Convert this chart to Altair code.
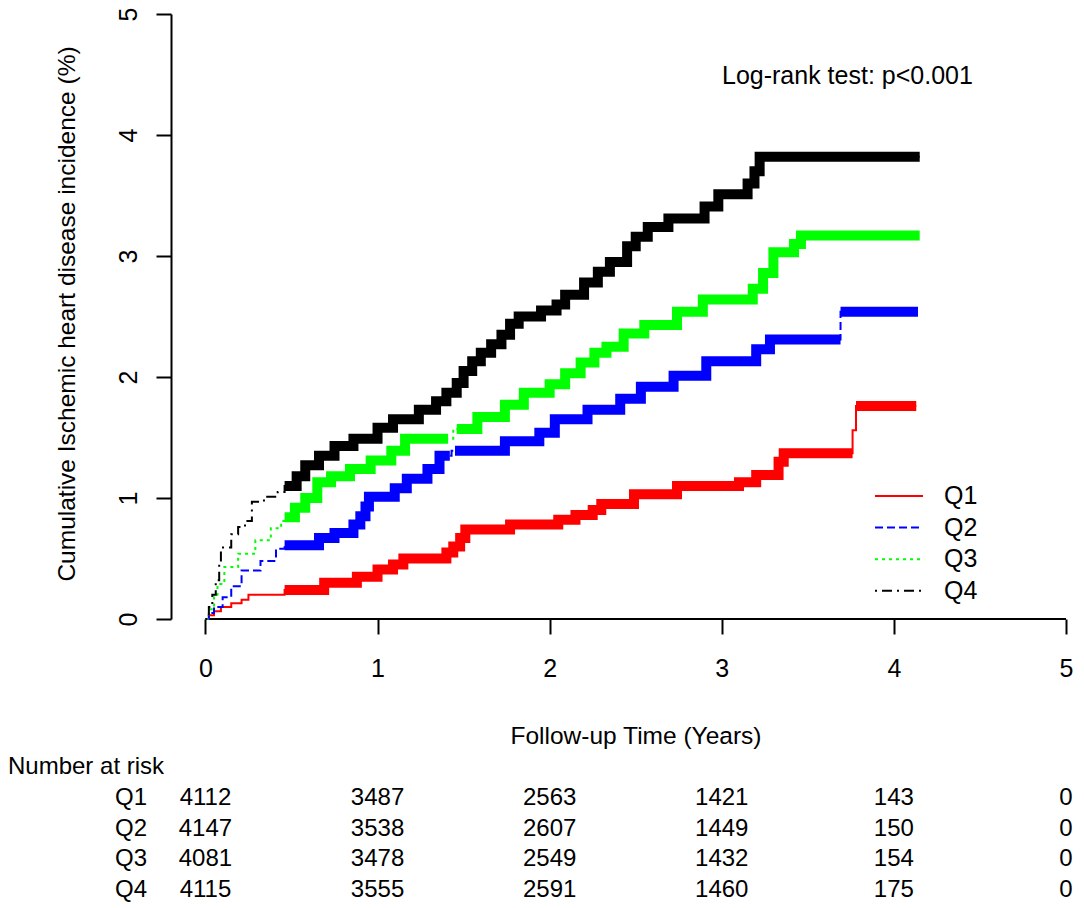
import altair as alt
import pandas as pd

FONT = "Liberation Sans"

# ---------------- data ----------------
groups = ["Q1", "Q2", "Q3", "Q4"]
group_colors = ["#FF0000", "#0000FF", "#00FF00", "#000000"]
group_dashes = [[1, 0], [8, 4], [3, 4], [2, 5, 10, 5]]

# step breakpoints (time in years, cumulative incidence %)
q1_t = [0, 0.02, 0.05, 0.09, 0.15, 0.21, 0.25, 0.46, 0.69, 0.88, 1.00, 1.09, 1.15, 1.40, 1.44,
        1.48, 1.51, 1.77, 2.05, 2.15, 2.25, 2.30, 2.49, 2.74, 3.10, 3.20, 3.33, 3.36, 3.76, 3.78, 4.13]
q1_v = [0, 0.03, 0.065, 0.10, 0.13, 0.16, 0.20, 0.24, 0.30, 0.35, 0.41, 0.45, 0.50, 0.55, 0.60,
        0.67, 0.74, 0.78, 0.82, 0.86, 0.90, 0.95, 1.03, 1.10, 1.13, 1.19, 1.30, 1.37, 1.56, 1.76, 1.76]

q2_t = [0, 0.02, 0.05, 0.10, 0.15, 0.21, 0.32, 0.41, 0.46, 0.66, 0.75, 0.86, 0.90, 0.93, 0.95,
        1.10, 1.17, 1.29, 1.36, 1.43, 1.74, 1.94, 2.03, 2.22, 2.41, 2.53, 2.72, 2.91, 3.20, 3.28, 3.69, 4.14]
q2_v = [0, 0.05, 0.10, 0.18, 0.27, 0.40, 0.48, 0.58, 0.61, 0.67, 0.71, 0.78, 0.85, 0.93, 1.01,
        1.08, 1.16, 1.24, 1.35, 1.39, 1.47, 1.54, 1.65, 1.73, 1.82, 1.92, 2.01, 2.13, 2.23, 2.31, 2.54, 2.54]

q3_t = [0, 0.02, 0.05, 0.07, 0.11, 0.19, 0.29, 0.38, 0.44, 0.46, 0.52, 0.58, 0.65, 0.73, 0.84,
        0.96, 1.08, 1.16, 1.44, 1.58, 1.74, 1.85, 2.00, 2.09, 2.18, 2.26, 2.33, 2.43, 2.55, 2.74,
        2.89, 3.18, 3.24, 3.30, 3.42, 3.46, 4.15]
q3_v = [0, 0.08, 0.20, 0.29, 0.43, 0.54, 0.65, 0.75, 0.81, 0.84, 0.92, 1.00, 1.13, 1.18, 1.24,
        1.31, 1.39, 1.49, 1.57, 1.67, 1.77, 1.87, 1.94, 2.03, 2.12, 2.20, 2.25, 2.36, 2.43, 2.54,
        2.64, 2.73, 2.86, 3.03, 3.10, 3.17, 3.17]

q4_t = [0, 0.02, 0.04, 0.06, 0.08, 0.09, 0.15, 0.19, 0.23, 0.27, 0.34, 0.42, 0.46, 0.53, 0.58,
        0.66, 0.75, 0.86, 1.00, 1.09, 1.24, 1.34, 1.40, 1.46, 1.50, 1.55, 1.60, 1.66, 1.72, 1.77,
        1.82, 1.95, 2.04, 2.09, 2.20, 2.28, 2.35, 2.45, 2.50, 2.57, 2.69, 2.90, 2.98, 3.15, 3.19, 3.22, 4.15]
q4_v = [0, 0.10, 0.20, 0.32, 0.45, 0.59, 0.70, 0.76, 0.81, 0.97, 1.01, 1.05, 1.10, 1.18, 1.27,
        1.35, 1.43, 1.49, 1.58, 1.65, 1.73, 1.80, 1.87, 1.95, 2.05, 2.13, 2.20, 2.27, 2.35, 2.44,
        2.50, 2.55, 2.60, 2.68, 2.78, 2.87, 2.95, 3.08, 3.16, 3.24, 3.31, 3.41, 3.51, 3.60, 3.70, 3.82, 3.82]

# time ranges densely covered by censoring marks (drawn as heavy band)
cens_q1 = [[0.46, 3.76], [3.78, 4.13]]
cens_q2 = [[0.46, 1.42], [1.45, 3.69], [3.69, 4.14]]
cens_q3 = [[0.46, 1.41], [1.46, 4.15]]
cens_q4 = [[0.46, 4.15]]

x_ticks = [0, 1, 2, 3, 4, 5]
y_ticks = [0, 1, 2, 3, 4, 5]
x_title = "Follow-up Time (Years)"
y_title = "Cumulative Ischemic heart disease incidence (%)"
test_label = ["Log-rank test: p<0.001"]
test_x = [3.73]
test_y = [4.42]

risk_header = "Number at risk"
risk_times = [0, 1, 2, 3, 4, 5]
risk_q1 = [4112, 3487, 2563, 1421, 143, 0]
risk_q2 = [4147, 3538, 2607, 1449, 150, 0]
risk_q3 = [4081, 3478, 2549, 1432, 154, 0]
risk_q4 = [4115, 3555, 2591, 1460, 175, 0]

# ---------------- tables ----------------
series_t = [q1_t, q2_t, q3_t, q4_t]
series_v = [q1_v, q2_v, q3_v, q4_v]
series_c = [cens_q1, cens_q2, cens_q3, cens_q4]
series_r = [risk_q1, risk_q2, risk_q3, risk_q4]

curve_rows = []
for g, ts, vs in zip(groups, series_t, series_v):
    assert len(ts) == len(vs)
    for t, v in zip(ts, vs):
        curve_rows.append({"group": g, "t": t, "v": v})
curves = pd.DataFrame(curve_rows)


def value_at(ts, vs, t, strict=False):
    val = vs[0]
    for ti, vi in zip(ts, vs):
        if ti < t or (ti == t and not strict):
            val = vi
    return val


band_rows = []
for g, ts, vs, cs in zip(groups, series_t, series_v, series_c):
    for k, (a, b) in enumerate(cs):
        seg = f"{g}-{k}"
        band_rows.append({"group": g, "seg": seg, "t": a, "v": value_at(ts, vs, a)})
        for ti, vi in zip(ts, vs):
            if a < ti < b:
                band_rows.append({"group": g, "seg": seg, "t": ti, "v": vi})
        band_rows.append({"group": g, "seg": seg, "t": b, "v": value_at(ts, vs, b, strict=True)})
bands = pd.DataFrame(band_rows)

risk_rows = []
for g, rs in zip(groups, series_r):
    for t, n in zip(risk_times, rs):
        risk_rows.append({"row": g, "t": t, "n": str(n)})
risk_df = pd.DataFrame(risk_rows)

rule_df = pd.DataFrame({"x0": [x_ticks[0]], "x1": [x_ticks[-1]], "y": [y_ticks[0]]})
test_df = pd.DataFrame({"x": test_x, "y": test_y, "label": test_label})

# ---------------- layout ----------------
W, H = 895, 605
PAD = {"left": 163, "top": 6, "right": 10, "bottom": 286}

xs = alt.Scale(domain=[-0.2, 5], nice=False, zero=False)
ys = alt.Scale(domain=[0, 5], nice=False, zero=False)
color_scale = alt.Scale(domain=groups, range=group_colors)
dash_scale = alt.Scale(domain=groups, range=group_dashes)

x_axis = alt.Axis(values=x_ticks, title=x_title, domain=False, grid=False,
                  tickSize=15, tickWidth=2, tickColor="black",
                  labelFont=FONT, labelFontSize=25, labelColor="black", labelPadding=42,
                  labelBaseline="alphabetic", labelFlush=False, labelOverlap=False,
                  titleFont=FONT, titleFontSize=24.5, titleFontWeight="normal", titleColor="black",
                  titleX=464.5, titleY=124, titleBaseline="alphabetic", titleAlign="center")
y_axis = alt.Axis(values=y_ticks, title=y_title, domain=True, domainWidth=2, domainColor="black",
                  grid=False, tickSize=15, tickWidth=2, tickColor="black",
                  labelFont=FONT, labelFontSize=25, labelColor="black", labelPadding=20,
                  labelAngle=270, labelAlign="center", labelBaseline="alphabetic",
                  labelFlush=False, labelOverlap=False,
                  titleFont=FONT, titleFontSize=24.5, titleFontWeight="normal", titleColor="black",
                  titleAngle=270, titleX=-97, titleY=H / 2 - 3, titleBaseline="alphabetic",
                  titleAlign="center")

leg = alt.Legend(title=None, orient="none", legendX=703, legendY=470, padding=0,
                 symbolType="stroke", symbolSize=2304, symbolStrokeWidth=2,
                 labelFont=FONT, labelFontSize=25, labelColor="black",
                 labelOffset=20, rowPadding=6.6, clipHeight=24)

X = alt.X("t:Q", scale=xs, axis=x_axis)
Y = alt.Y("v:Q", scale=ys, axis=y_axis)

axis_rule = alt.Chart(rule_df).mark_rule(color="black", strokeWidth=2).encode(
    x=alt.X("x0:Q", scale=xs, axis=x_axis), x2="x1:Q",
    y=alt.Y("y:Q", scale=ys, axis=y_axis))

thin = alt.Chart(curves).mark_line(interpolate="step-after", strokeWidth=2).encode(
    x=X, y=Y,
    color=alt.Color("group:N", scale=color_scale, legend=leg),
    strokeDash=alt.StrokeDash("group:N", scale=dash_scale, legend=leg))

thick = alt.Chart(bands).mark_line(interpolate="step-after", strokeWidth=10,
                                   strokeCap="butt", strokeJoin="miter").encode(
    x=X, y=Y,
    color=alt.Color("group:N", scale=color_scale, legend=leg),
    detail="seg:N")

test_text = alt.Chart(test_df).mark_text(font=FONT, fontSize=25, color="black",
                                         align="center", baseline="alphabetic").encode(
    x=alt.X("x:Q", scale=xs, axis=x_axis), y=alt.Y("y:Q", scale=ys, axis=y_axis), text="label:N")

row_scale = alt.Scale(type="point", domain=[risk_header] + groups, range=[760, 883], padding=0)

numbers = alt.Chart(risk_df).mark_text(font=FONT, fontSize=24, color="black",
                                       align="center", baseline="alphabetic").encode(
    x=alt.X("t:Q", scale=xs, axis=x_axis),
    y=alt.Y("row:N", scale=row_scale, axis=None),
    text="n:N")
row_labels = alt.Chart(pd.DataFrame({"row": groups})).mark_text(
    font=FONT, fontSize=24, color="black", align="right", baseline="alphabetic").encode(
    x=alt.value(-24), y=alt.Y("row:N", scale=row_scale, axis=None), text="row:N")
header = alt.Chart(pd.DataFrame({"row": [risk_header]})).mark_text(
    font=FONT, fontSize=24, color="black", align="left", baseline="alphabetic").encode(
    x=alt.value(-163), y=alt.Y("row:N", scale=row_scale, axis=None), text="row:N")

main = alt.layer(axis_rule, thin, thick, test_text)
table = alt.layer(numbers, row_labels, header)

chart = alt.layer(main, table).resolve_scale(y="independent").properties(
    width=W, height=H,
    autosize=alt.AutoSizeParams(type="none"),
    padding=PAD,
    background="white",
).configure(font=FONT).configure_view(stroke=None)

chart.save("out.html", embed_options={"renderer": "svg", "actions": False})
